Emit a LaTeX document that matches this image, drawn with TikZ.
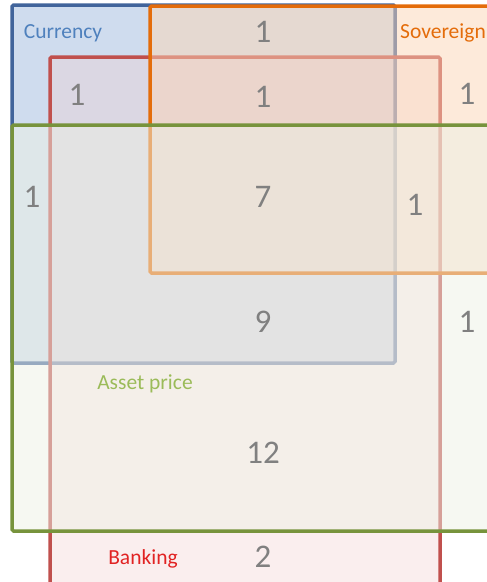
\documentclass[tikz,border=0pt]{standalone}
\usepackage{fontspec}
\setmainfont{Carlito}
\usepackage{tikz}

\definecolor{CurLine}{RGB}{65,100,155}
\definecolor{CurFill}{RGB}{118,155,206}
\definecolor{CurText}{RGB}{79,129,189}
\definecolor{SovLine}{RGB}{228,108,10}
\definecolor{SovFill}{RGB}{251,213,181}
\definecolor{BankLine}{RGB}{192,80,77}
\definecolor{BankFill}{RGB}{241,206,206}
\definecolor{BankText}{RGB}{225,35,35}
\definecolor{AssetLine}{RGB}{119,147,60}
\definecolor{AssetFill}{RGB}{237,241,229}
\definecolor{AssetText}{RGB}{155,187,89}
\definecolor{CountGray}{RGB}{128,128,128}

\tikzset{
  setbox/.style={line width=3.5pt, rounded corners=1.5pt, fill opacity=0.35},
  setname/.style={font=\fontsize{21.5}{24}\selectfont, inner sep=0pt},
  count/.style={font=\fontsize{33}{36}\selectfont, text=CountGray, inner sep=0pt}
}

\begin{document}
\begin{tikzpicture}[x=1pt,y=-1pt]
  \useasboundingbox (0,0) rectangle (487,582);
  \begin{scope}
  \clip (0,0) rectangle (487,582);
  % the four sets
  \draw[setbox, CurLine, fill=CurFill] (12,5) rectangle (395,363);
  \draw[setbox, BankLine, fill=BankFill] (50,57) rectangle (440,600);
  \draw[setbox, SovLine, fill=SovFill, fill opacity=0.5] (150,6) rectangle (500,273);
  \draw[setbox, AssetLine, fill=AssetFill, fill opacity=0.5] (12,125) rectangle (500,531);
  % set names
  \node[setname, text=CurText] (currency) at (63,33) {Currency};
  \node[setname, text=SovLine, anchor=west] (sovereign) at (400,33) {Sovereign};
  \node[setname, text=AssetText] (asset) at (145,384) {Asset price};
  \node[setname, text=BankText] (banking) at (143,559) {Banking};
  % counts
  \foreach \name/\x/\y/\n in {cs/263/32/1, cb/77/95/1, cbs/263/97/1, s/467/94/1,
      ca/32/197/1, all/263/197/7, bsa/415/205/1, cba/263/322/9, sa/467/322/1,
      ba/263/453/12, b/263/557/2} {
    \node[count] (n\name) at (\x,\y) {\n};
  }
  \end{scope}
\end{tikzpicture}
\end{document}
